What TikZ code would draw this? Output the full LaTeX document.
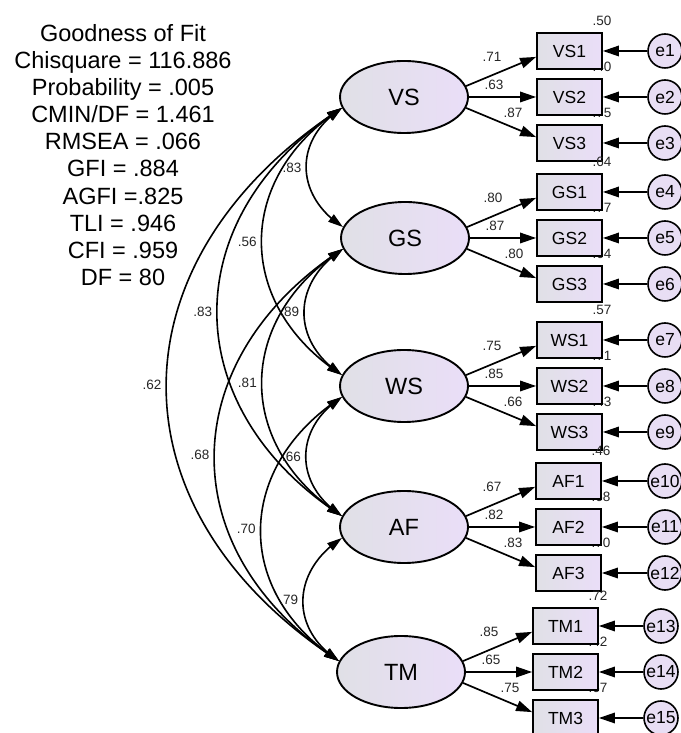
\documentclass[tikz,border=0pt]{standalone}
\usepackage{fontspec}
\setmainfont{Liberation Sans}
\usetikzlibrary{arrows.meta,bending,shapes.geometric}
\definecolor{lav}{RGB}{234,222,248}
\definecolor{lavg}{RGB}{224,224,230}
\tikzset{
  semtip/.tip={Triangle[length=16pt,width=10.5pt]},
  covtip/.tip={Triangle[length=15pt,width=9pt]},
  factor/.style={ellipse, draw, line width=1.9pt, minimum width=128pt, minimum height=72pt,
    inner sep=0pt, left color=lavg, right color=lav, font=\fontsize{23.5}{23.5}\selectfont},
  obs/.style={rectangle, draw, line width=1.8pt, minimum width=65pt, minimum height=36pt,
    inner sep=0pt, left color=lavg, right color=lav, font=\fontsize{17.5}{17.5}\selectfont},
  err/.style={circle, draw, line width=1.6pt, minimum size=34pt, inner sep=0pt,
    fill=lav!80!lavg, font=\fontsize{17.5}{17.5}\selectfont},
  lbl/.style={inner sep=0pt, font=\fontsize{13.5}{13.5}\selectfont, text=black!85},
  clbl/.style={lbl, midway, left=4pt},
  load/.style={-semtip, line width=1.7pt},
  errarr/.style={-semtip, line width=1.7pt},
  cov/.style={covtip-covtip, line width=1.6pt},
}
\begin{document}
\begin{tikzpicture}[x=1pt,y=1pt]
\useasboundingbox (0,0) rectangle (680,733);
\node[align=center, inner sep=0pt, font=\fontsize{23.5}{27.1}\selectfont] (gof) at (123,578)
  {Goodness of Fit\\Chisquare = 116.886\\Probability = .005\\CMIN/DF = 1.461\\RMSEA = .066\\
   GFI = .884\\AGFI =.825\\TLI = .946\\CFI = .959\\DF = 80};

\node[factor] (VS) at (404,636) {VS};
\node[factor] (GS) at (405,495) {GS};
\node[factor] (WS) at (404,347) {WS};
\node[factor] (AF) at (404,206) {AF};
\node[factor] (TM) at (401,61) {TM};

\foreach \f/\cx/\cy/\bx/\ex/\n/\la/\lb/\lc/\ra/\rb/\rc in {
  VS/404/636/569.5/665/1/.71/.63/.87/.50/.40/.75,
  GS/405/495/569.5/665/4/.80/.87/.80/.64/.77/.64,
  WS/404/347/569.5/665/7/.75/.85/.66/.57/.71/.43,
  AF/404/206/568.5/665/10/.67/.82/.83/.46/.68/.70,
  TM/401/61/565.5/661/13/.85/.65/.75/.72/.42/.67}{
  \pgfmathtruncatemacro\na{\n}
  \pgfmathtruncatemacro\nb{\n+1}
  \pgfmathtruncatemacro\nc{\n+2}
  \node[lbl] (r\f1) at ({\bx+32.5},{\cy+46+30}) {\ra};
  \node[lbl] (r\f2) at ({\bx+32.5},{\cy+30}) {\rb};
  \node[lbl] (r\f3) at ({\bx+32.5},{\cy-46+30}) {\rc};
  \node[obs] (\f1) at (\bx,{\cy+46}) {\f1};
  \node[obs] (\f2) at (\bx,\cy) {\f2};
  \node[obs] (\f3) at (\bx,{\cy-46}) {\f3};
  \node[err] (e\na) at (\ex,{\cy+46}) {e\na};
  \node[err] (e\nb) at (\ex,\cy) {e\nb};
  \node[err] (e\nc) at (\ex,{\cy-46}) {e\nc};
  \draw[errarr] (e\na) -- (\f1);
  \draw[errarr] (e\nb) -- (\f2);
  \draw[errarr] (e\nc) -- (\f3);
  \draw[load] (\f.10) -- (\f1.190);
  \draw[load] (\f.east) -- (\f2.west);
  \draw[load] (\f.-10) -- (\f3.170);
  \node[lbl] (l\f1) at ({\cx+88},{\cy+40}) {\la};
  \node[lbl] (l\f2) at ({\cx+90},{\cy+12}) {\lb};
  \node[lbl] (l\f3) at ({\cx+109},{\cy-16}) {\lc};
}

\draw[cov] (VS.190) to[out=213,in=147,looseness=1.24] node[clbl] (c1) {.83} (GS.170);
\draw[cov] (VS.190) to[out=213,in=147,looseness=1.23] node[clbl] (c2) {.56} (WS.170);
\draw[cov] (VS.190) to[out=213,in=147,looseness=1.25] node[clbl] (c3) {.83} (AF.170);
\draw[cov] (VS.190) to[out=213,in=147,looseness=1.28] node[clbl] (c4) {.62} (TM.170);
\draw[cov] (GS.190) to[out=213,in=147,looseness=1.24] node[clbl] (c5) {.89} (WS.170);
\draw[cov] (GS.190) to[out=213,in=147,looseness=1.23] node[clbl] (c6) {.81} (AF.170);
\draw[cov] (GS.190) to[out=213,in=147,looseness=1.25] node[clbl] (c7) {.68} (TM.170);
\draw[cov] (WS.190) to[out=213,in=147,looseness=1.24] node[clbl] (c8) {.66} (AF.170);
\draw[cov] (WS.190) to[out=213,in=147,looseness=1.23] node[clbl] (c9) {.70} (TM.170);
\draw[cov] (AF.190) to[out=213,in=147,looseness=1.24] node[clbl] (c10) {.79} (TM.170);
\end{tikzpicture}
\end{document}
